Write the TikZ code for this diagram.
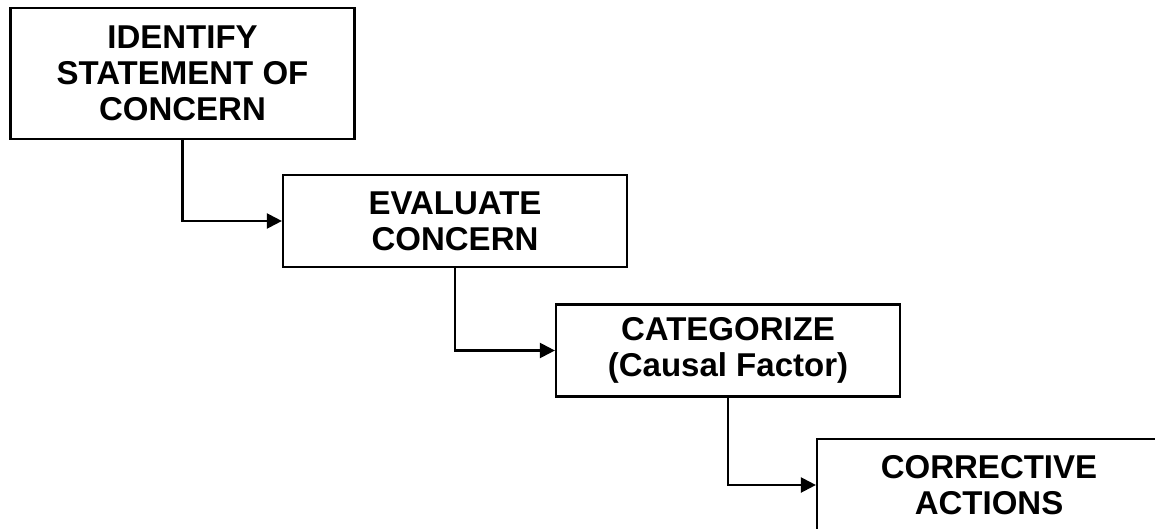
\documentclass[tikz,border=0pt]{standalone}
\usepackage{fontspec}
\setmainfont{Liberation Sans}
\usetikzlibrary{arrows.meta}

\begin{document}
\begin{tikzpicture}[x=1pt,y=-1pt,
    stepbox/.style={draw, line width=2.2pt, minimum width=344pt, align=center,
        inner sep=0pt, font=\fontsize{33}{36}\selectfont\bfseries},
    flow/.style={line width=2.2pt, -{Triangle[length=15pt,width=15pt]}}]
    \pgfmathsetmacro{\hbig}{131}
    \pgfmathsetmacro{\hsmall}{92}
    % Page size
    \useasboundingbox (0,0) rectangle (1155,529);
    \clip (0,0) rectangle (1155,529);
    % Draw the steps
    \node [stepbox, minimum height=\hbig pt] (identify) at (182.5,73.5) {IDENTIFY\\STATEMENT OF\\CONCERN};
    \node [stepbox, minimum height=\hsmall pt] (evaluate) at (455,221) {EVALUATE\\CONCERN};
    \node [stepbox, minimum height=\hsmall pt] (categorize) at (728,350.5) {CATEGORIZE\\(Causal Factor)};
    \node [stepbox, minimum height=\hsmall pt] (corrective) at (989,485) {CORRECTIVE\\ACTIONS};

    % Draw the connectors
    \draw [flow] (identify.south) |- (evaluate.west);
    \draw [flow] (evaluate.south) |- (categorize.west);
    \draw [flow] (categorize.south) |- (corrective.west);
\end{tikzpicture}
\end{document}
